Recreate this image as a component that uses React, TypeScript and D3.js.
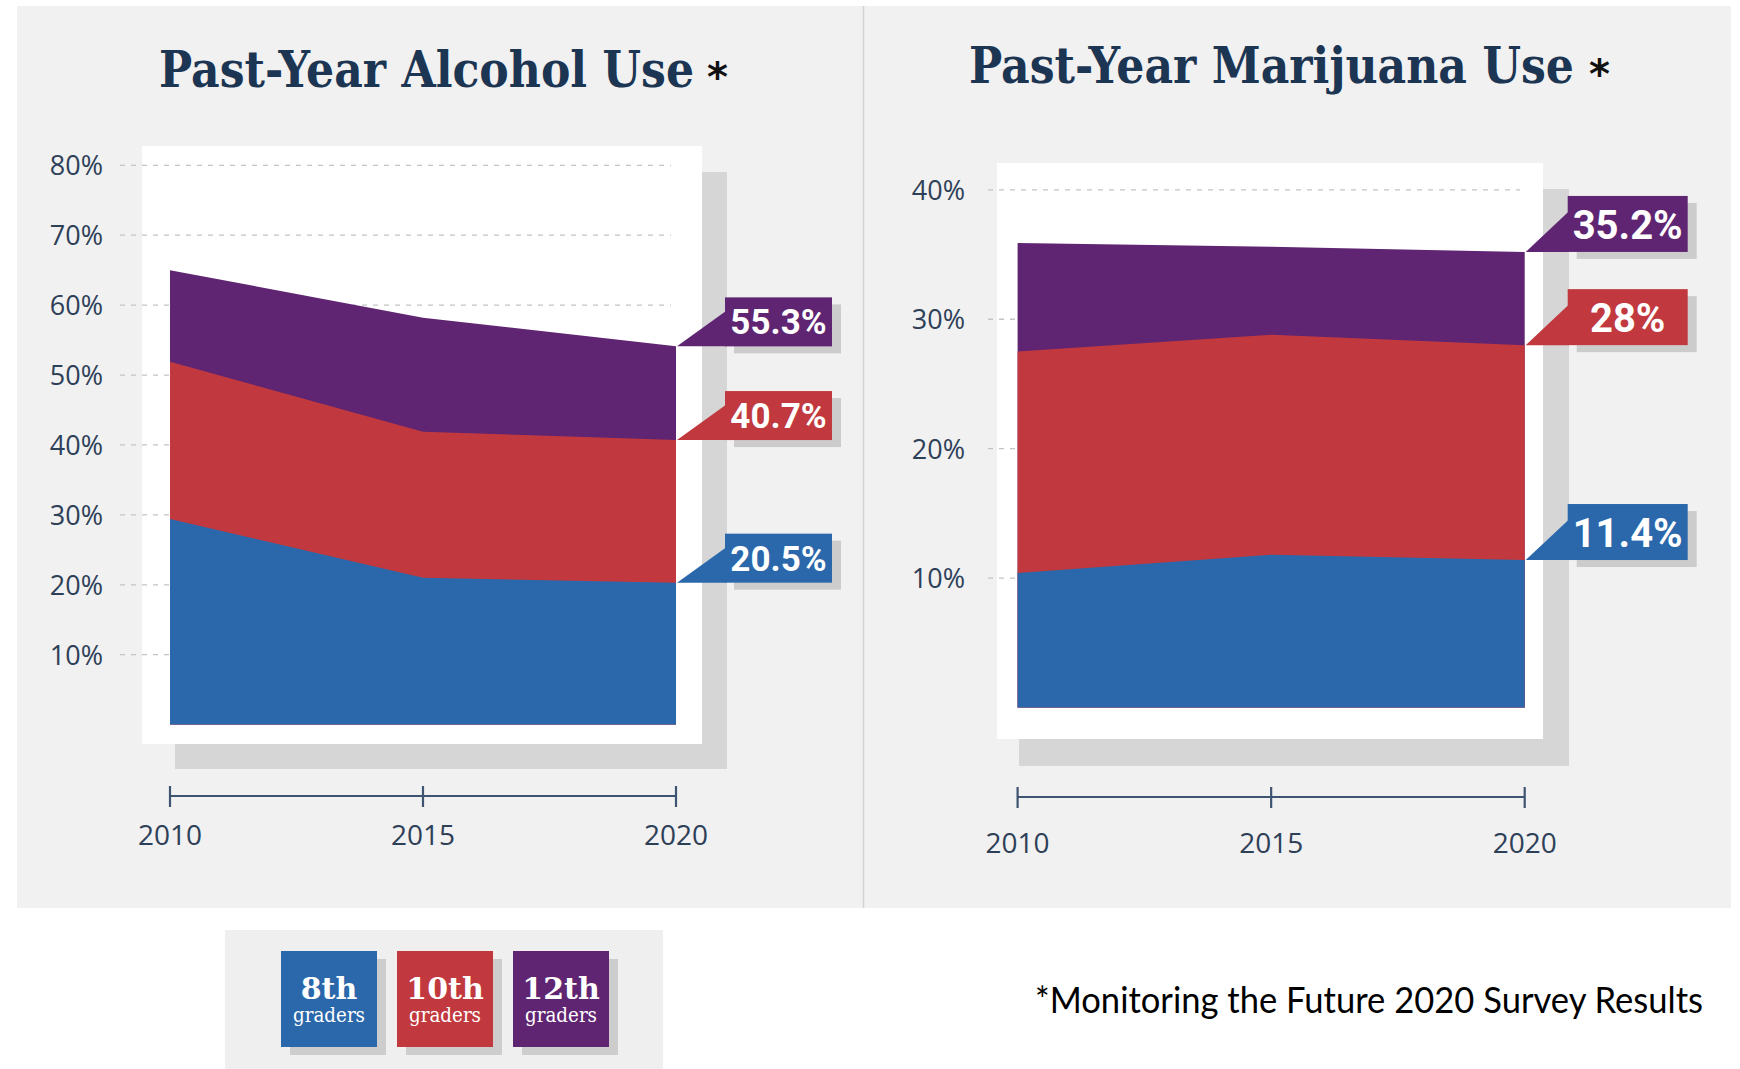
import React from 'react';
import * as d3 from 'd3';

const years = [2010, 2015, 2020];
const grades = ['8th', '10th', '12th'];
const gradeColors = ['#2a68ab', '#c1393e', '#5f2572'];

const alcohol8th = [29.4, 21.0, 20.3];
const alcohol10th = [51.9, 41.9, 40.7];
const alcohol12th = [65.0, 58.2, 54.1];
const alcoholLabels = ['20.5%', '40.7%', '55.3%'];
const alcoholTicks = [10, 20, 30, 40, 50, 60, 70, 80];

const marijuana8th = [10.4, 11.8, 11.4];
const marijuana10th = [27.5, 28.8, 28.0];
const marijuana12th = [35.9, 35.6, 35.2];
const marijuanaLabels = ['11.4%', '28%', '35.2%'];
const marijuanaTicks = [10, 20, 30, 40];

const footnote = '*Monitoring the Future 2020 Survey Results';

type PanelCfg = {
  title: string;
  titleX: number; titleW: number; titleY: number; starX: number; starY: number;
  series: number[][]; labels: string[]; ticks: number[]; yMax: number;
  xRange: [number, number]; yRange: [number, number];
  white: { x: number; y: number; w: number; h: number };
  shadow: { x: number; y: number; w: number; h: number };
  gridX: [number, number]; tickLabelX: number; axisY: number; yearY: number;
  call: { dx: number; w: number; h: number; font: number; base: number };
};

const panels: PanelCfg[] = [
  {
    title: 'Past-Year Alcohol Use', titleX: 159, titleW: 535, titleY: 87, starX: 707, starY: 91,
    series: [alcohol8th, alcohol10th, alcohol12th], labels: alcoholLabels, ticks: alcoholTicks, yMax: 80,
    xRange: [170, 676], yRange: [724.6, 165.3],
    white: { x: 142, y: 146, w: 560, h: 598 }, shadow: { x: 175, y: 172, w: 552, h: 597 },
    gridX: [120, 671], tickLabelX: 103, axisY: 796, yearY: 845,
    call: { dx: 49, w: 107, h: 49, font: 35, base: 37 },
  },
  {
    title: 'Past-Year Marijuana Use', titleX: 969, titleW: 605, titleY: 83, starX: 1589, starY: 88,
    series: [marijuana8th, marijuana10th, marijuana12th], labels: marijuanaLabels, ticks: marijuanaTicks, yMax: 40,
    xRange: [1017.6, 1524.7], yRange: [707.6, 189.8],
    white: { x: 997, y: 163, w: 546, h: 576 }, shadow: { x: 1019, y: 189, w: 550, h: 577 },
    gridX: [988, 1520], tickLabelX: 965, axisY: 797, yearY: 853,
    call: { dx: 43, w: 120, h: 56, font: 40, base: 43 },
  },
];

const navy = '#1c3553';
const tickColor = '#2e4058';

function Panel({ cfg }: { cfg: PanelCfg }) {
  const x = d3.scaleLinear().domain([years[0], years[years.length - 1]]).range(cfg.xRange);
  const y = d3.scaleLinear().domain([0, cfg.yMax]).range(cfg.yRange);
  const area = d3.area<number>()
    .x((_, i) => x(years[i]))
    .y0(y(0))
    .y1((d) => y(d))
    .curve(d3.curveLinear);
  const order = [2, 1, 0];
  const xEnd = x(years[years.length - 1]);
  return (
    <g>
      <rect x={cfg.shadow.x} y={cfg.shadow.y} width={cfg.shadow.w} height={cfg.shadow.h} fill="#d6d6d6" />
      <rect x={cfg.white.x} y={cfg.white.y} width={cfg.white.w} height={cfg.white.h} fill="#ffffff" />
      {cfg.ticks.map((t) => (
        <g key={t}>
          <line x1={cfg.gridX[0]} x2={cfg.gridX[1]} y1={y(t)} y2={y(t)} stroke="#c4c4c4" strokeWidth={1.3} strokeDasharray="5,6" />
          <text x={cfg.tickLabelX} y={y(t) + 10} textAnchor="end" fontFamily="'Open Sans', sans-serif" fontSize={27} fill={tickColor}>{t}%</text>
        </g>
      ))}
      {order.map((i) => (
        <path key={i} d={area(cfg.series[i]) || ''} fill={gradeColors[i]} />
      ))}
      <line x1={x(years[0])} x2={x(years[years.length - 1])} y1={cfg.axisY} y2={cfg.axisY} stroke="#3e5470" strokeWidth={2.2} />
      {years.map((yr) => (
        <g key={yr}>
          <line x1={x(yr)} x2={x(yr)} y1={cfg.axisY - 10} y2={cfg.axisY + 11} stroke="#3e5470" strokeWidth={2.2} />
          <text x={x(yr)} y={cfg.yearY} textAnchor="middle" fontFamily="'Open Sans', sans-serif" fontSize={28} fill={tickColor}>{yr}</text>
        </g>
      ))}
      {order.map((i) => {
        const v = cfg.series[i][cfg.series[i].length - 1];
        const py = y(v);
        const bx = xEnd + cfg.call.dx;
        const by = py - cfg.call.h;
        return (
          <g key={'c' + i}>
            <rect x={bx + 9} y={by + 7} width={cfg.call.w} height={cfg.call.h} fill="#cccccc" />
            <polygon points={`${xEnd + 1},${py} ${bx + 1},${by + cfg.call.h * 0.28} ${bx + 1},${by + cfg.call.h}`} fill={gradeColors[i]} />
            <rect x={bx} y={by} width={cfg.call.w} height={cfg.call.h} fill={gradeColors[i]} />
            <text x={bx + cfg.call.w / 2} y={by + cfg.call.base} textAnchor="middle" fontFamily="Roboto, sans-serif" fontWeight={700} fontSize={cfg.call.font} fill="#ffffff">{cfg.labels[i]}</text>
          </g>
        );
      })}
      <g transform={`translate(${cfg.titleX},${cfg.titleY}) scale(1,1.2)`}>
        <text x={0} y={0} textLength={cfg.titleW} lengthAdjust="spacingAndGlyphs" fontFamily="'DejaVu Serif', serif" fontWeight={700} fontSize={42} fill={navy}>{cfg.title}</text>
      </g>
      <text x={cfg.starX} y={cfg.starY} fontFamily="'DejaVu Sans', sans-serif" fontWeight={700} fontSize={40} fill="#111111">*</text>
    </g>
  );
}

export default function App() {
  const legendX = [281, 397, 513];
  return (
    <svg width={1740} height={1069} style={{ position: 'absolute', left: 0, top: 0, display: 'block' }}>
      <rect x={0} y={0} width={1740} height={1069} fill="#ffffff" />
      <rect x={17} y={6} width={1714} height={902} fill="#f1f1f1" />
      <line x1={863.5} x2={863.5} y1={6} y2={908} stroke="#d4d4d4" strokeWidth={1.5} />
      {panels.map((p, i) => <Panel key={i} cfg={p} />)}
      <rect x={225} y={930} width={438} height={139} fill="#efefef" />
      {grades.map((g, i) => (
        <g key={g}>
          <rect x={legendX[i] + 9} y={951 + 8} width={96} height={96} fill="#cdcdcd" />
          <rect x={legendX[i]} y={951} width={96} height={96} fill={gradeColors[i]} />
          <text x={legendX[i] + 48} y={999} textAnchor="middle" fontFamily="'DejaVu Serif', serif" fontWeight={700} fontSize={30} fill="#ffffff">{g}</text>
          <text x={legendX[i] + 48} y={1022} textAnchor="middle" fontFamily="'DejaVu Serif', serif" fontSize={20} textLength={72} lengthAdjust="spacingAndGlyphs" fill="#ffffff">graders</text>
        </g>
      ))}
      <text x={1035} y={1013} textLength={668} lengthAdjust="spacingAndGlyphs" fontFamily="Lato, sans-serif" fontSize={36} fill="#000000">{footnote}</text>
    </svg>
  );
}
